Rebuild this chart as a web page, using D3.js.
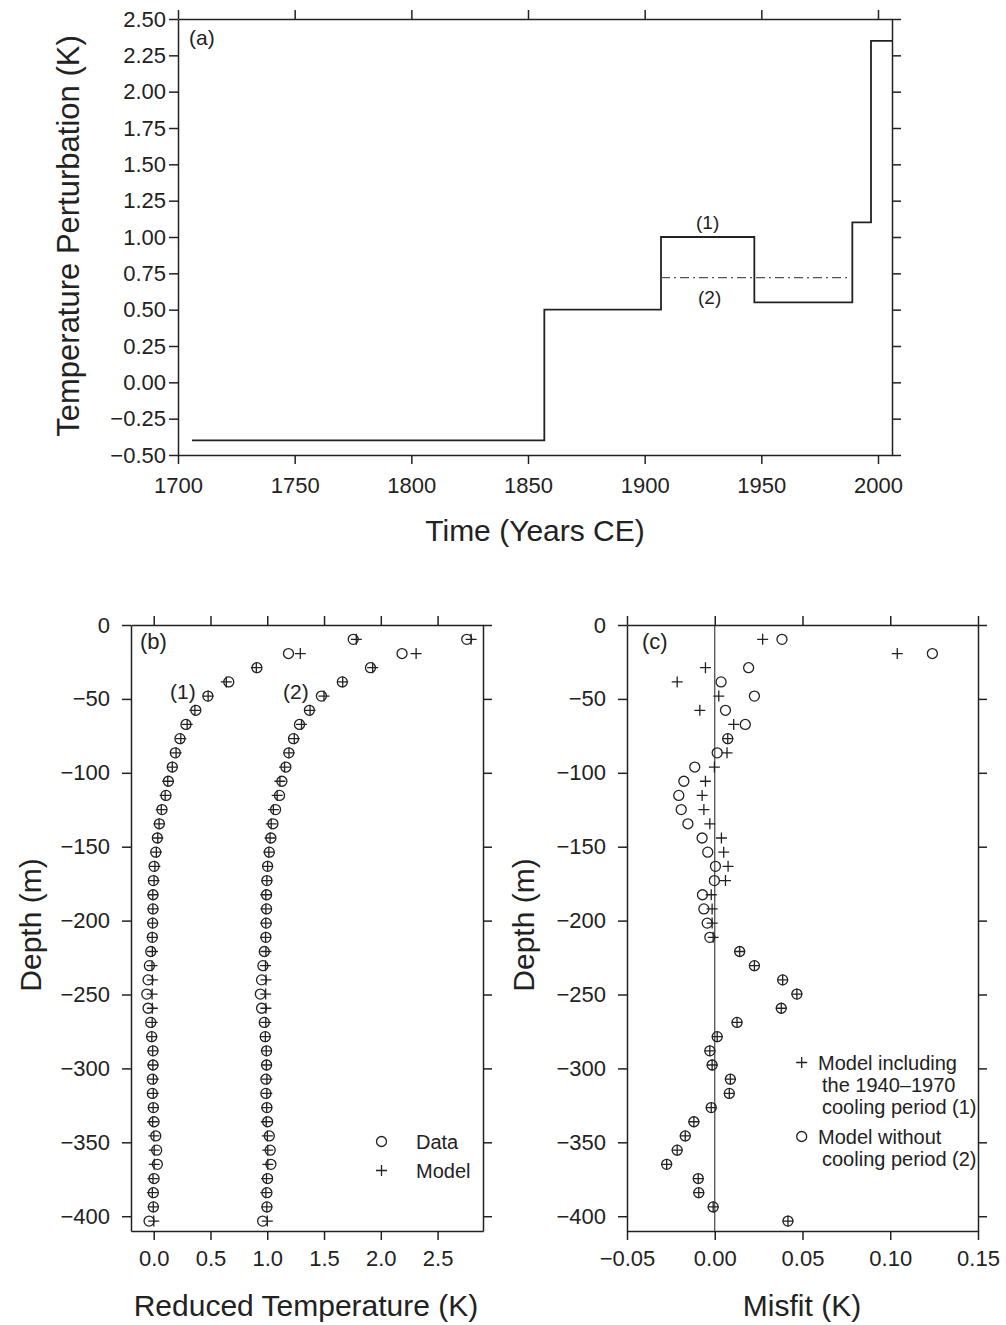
<!DOCTYPE html>
<html>
<head>
<meta charset="utf-8">
<script src="https://cdn.jsdelivr.net/npm/d3@7"></script>
<style>
    body { margin: 0; background: #fff; }
    svg text { font-family: "Liberation Sans", Arial, Helvetica, sans-serif; fill: #222; }
    .axis path, .axis line { stroke: #222; stroke-width: 1.5; }
    .axis text { font-size: 22px; }
    .title { font-size: 30px; }
    .tag { font-size: 19px; }
</style>
</head>
<body>
<svg id="fig" width="1006" height="1325"></svg>
<script>

// ---- panel (a): step history of the surface temperature ----
let stepYears = [1706, 1857, 1907, 1947, 1989, 1997, 2006];
let stepValues = [-0.4, 0.5, 1.0, 0.55, 1.1, 2.35, 2.35];
let noCoolingYears = [1907, 1988];
let noCoolingValue = 0.72;
let yearTicks = [1700, 1750, 1800, 1850, 1900, 1950, 2000];
let perturbTicks = [-0.5, -0.25, 0, 0.25, 0.5, 0.75, 1, 1.25, 1.5, 1.75, 2, 2.25, 2.5];

// ---- panels (b) and (c): borehole profile ----
let depths = [-9.7, -19.3, -28.9, -38.5, -48.1, -57.7, -67.3, -76.9, -86.5, -96.1,
    -105.7, -115.3, -124.9, -134.5, -144.1, -153.7, -163.3, -172.9, -182.5, -192.1,
    -201.7, -211.3, -220.9, -230.5, -240.1, -249.7, -259.3, -268.9, -278.5, -288.1,
    -297.7, -307.3, -316.9, -326.5, -336.1, -345.7, -355.3, -364.9, -374.5, -384.1,
    -393.7, -403.3];
// reduced temperature (data), curve (2) is drawn shifted by 1 K
let reducedTemp = [1.757, 1.187, 0.909, 0.661, 0.477, 0.371, 0.284, 0.231, 0.190, 0.164,
    0.129, 0.108, 0.073, 0.050, 0.032, 0.018, 0.003, -0.003, -0.006, -0.006,
    -0.009, -0.012, -0.026, -0.038, -0.050, -0.061, -0.050, -0.026, -0.018, -0.006,
    -0.006, -0.012, -0.012, -0.003, 0.003, 0.018, 0.026, 0.032, 0.003, -0.003,
    -0.003, -0.041];
let curveOffset = [0, 1];
// misfit = model - data
let misfit1 = [0.0273, 0.104, -0.0053, -0.0214, 0.0023, -0.0085, 0.0108, 0.0074, 0.007, -0.0002,
    -0.0053, -0.0072, -0.0062, -0.0028, 0.0038, 0.0051, 0.0076, 0.0061, -0.002, -0.0015,
    -0.0015, -0.0009, 0.0142, 0.0226, 0.0387, 0.0468, 0.0379, 0.0127, 0.0014, -0.0028,
    -0.0015, 0.0089, 0.0083, -0.002, -0.0119, -0.0168, -0.0214, -0.0274, -0.0094, -0.0091,
    -0.0009, 0.0417];
let misfit2 = [0.0383, 0.124, 0.0193, 0.0036, 0.0226, 0.0061, 0.0174, 0.0074, 0.0014, -0.0114,
    -0.0176, -0.0205, -0.0191, -0.0153, -0.0072, -0.004, 0.0004, -0.0002, -0.007, -0.0062,
    -0.0043, -0.0028, 0.0142, 0.0226, 0.0387, 0.0468, 0.0379, 0.0127, 0.0014, -0.0028,
    -0.0015, 0.0089, 0.0083, -0.002, -0.0119, -0.0168, -0.0214, -0.0274, -0.0094, -0.0091,
    -0.0009, 0.0417];
let depthTicks = [0, -50, -100, -150, -200, -250, -300, -350, -400];
let tempTicks = [0, 0.5, 1, 1.5, 2, 2.5];
let misfitTicks = [-0.05, 0, 0.05, 0.1, 0.15];

let svg = d3.select("#fig");
let ink = "#222";

// draw a boxed frame with outward ticks on all four sides
function drawFrame(g, x, y, xTicks, yTicks, xFmt, yFmt, xPad, yPad) {
    let tick = 9;
    let [x0, x1] = x.range();
    let [y0, y1] = y.range();
    g.append("g").attr("class", "axis").attr("transform", "translate(0," + y0 + ")")
        .call(d3.axisBottom(x).tickValues(xTicks).tickFormat(xFmt).tickSize(tick).tickSizeOuter(0).tickPadding(xPad));
    g.append("g").attr("class", "axis").attr("transform", "translate(0," + y1 + ")")
        .call(d3.axisTop(x).tickValues(xTicks).tickFormat("").tickSize(tick).tickSizeOuter(0));
    g.append("g").attr("class", "axis").attr("transform", "translate(" + x0 + ",0)")
        .call(d3.axisLeft(y).tickValues(yTicks).tickFormat(yFmt).tickSize(tick).tickSizeOuter(0).tickPadding(yPad));
    g.append("g").attr("class", "axis").attr("transform", "translate(" + x1 + ",0)")
        .call(d3.axisRight(y).tickValues(yTicks).tickFormat("").tickSize(tick).tickSizeOuter(0));
}

function addTitle(g, txt, cx, cy, rotate, size) {
    g.append("text").attr("class", "title")
        .attr("text-anchor", "middle")
        .attr("dy", "0.35em")
        .style("font-size", size + "px")
        .attr("transform", "translate(" + cx + "," + cy + ")" + (rotate ? " rotate(-90)" : ""))
        .text(txt);
}

function addTag(g, txt, px, py, size) {
    g.append("text").attr("class", "tag")
        .attr("x", px).attr("y", py)
        .style("font-size", size + "px")
        .text(txt);
}

function circles(g, pts, r) {
    g.selectAll(null).data(pts).enter().append("circle")
        .attr("cx", d => d[0]).attr("cy", d => d[1]).attr("r", r)
        .attr("fill", "none").attr("stroke", ink).attr("stroke-width", 1.3);
}

function crosses(g, pts, s) {
    g.selectAll(null).data(pts).enter().append("path")
        .attr("d", d => "M" + (d[0] - s) + "," + d[1] + "h" + (2 * s) + "M" + d[0] + "," + (d[1] - s) + "v" + (2 * s))
        .attr("stroke", ink).attr("stroke-width", 1.3).attr("fill", "none");
}

// ================= panel (a) =================
let ga = svg.append("g");
let xa = d3.scaleLinear().domain([1700, 2006]).range([178, 892]);
let ya = d3.scaleLinear().domain([-0.5, 2.5]).range([455, 19]);

let steps = stepYears.map((yr, i) => [yr, stepValues[i]]);
ga.append("path").datum(steps)
    .attr("d", d3.line().x(d => xa(d[0])).y(d => ya(d[1])).curve(d3.curveStepAfter))
    .attr("fill", "none").attr("stroke", ink).attr("stroke-width", 1.8);

ga.append("path").datum(noCoolingYears)
    .attr("d", d3.line().x(d => xa(d)).y(() => ya(noCoolingValue)))
    .attr("fill", "none").attr("stroke", "#555").attr("stroke-width", 1.3)
    .attr("stroke-dasharray", "9,4,2,4");

drawFrame(ga, xa, ya, yearTicks, perturbTicks, d3.format("d"), d3.format(".2f"), 13, 3);
addTitle(ga, "Temperature Perturbation (K)", 68, 236, true, 31);
addTitle(ga, "Time (Years CE)", 535, 530, false, 30);
addTag(ga, "(a)", 189, 45, 21);
addTag(ga, "(1)", 696, 229, 19);
addTag(ga, "(2)", 698, 304, 19);

// ================= panel (b) =================
let gb = svg.append("g");
let xb = d3.scaleLinear().domain([-0.2, 2.9]).range([131, 483]);
let yb = d3.scaleLinear().domain([-410, 0]).range([1231, 625]);

let dataPts = [], modelPts = [];
curveOffset.forEach(function(off, c) {
    let mis = c === 0 ? misfit1 : misfit2;
    depths.forEach(function(z, i) {
        dataPts.push([xb(reducedTemp[i] + off), yb(z)]);
        modelPts.push([xb(reducedTemp[i] + mis[i] + off), yb(z)]);
    });
});
circles(gb, dataPts, 5);
crosses(gb, modelPts, 5.5);

drawFrame(gb, xb, yb, tempTicks, depthTicks, d3.format(".1f"), d3.format("d"), 10, 12);
addTitle(gb, "Depth (m)", 30, 925, true, 30);
addTitle(gb, "Reduced Temperature (K)", 306, 1305, false, 30);
addTag(gb, "(b)", 140, 649, 22);
addTag(gb, "(1)", 170, 699, 21);
addTag(gb, "(2)", 283, 699, 21);

// legend (b)
circles(gb, [[381.5, 1141.5]], 5);
crosses(gb, [[381.5, 1170.5]], 5.5);
addTag(gb, "Data", 416, 1149, 20);
addTag(gb, "Model", 416, 1178, 20);

// ================= panel (c) =================
let gc = svg.append("g");
let xc = d3.scaleLinear().domain([-0.05, 0.15]).range([627, 978]);
let yc = d3.scaleLinear().domain([-410, 0]).range([1231, 625]);

gc.append("line")
    .attr("x1", xc(0)).attr("x2", xc(0))
    .attr("y1", yc(0)).attr("y2", yc(-410))
    .attr("stroke", "#444").attr("stroke-width", 1.2);

circles(gc, depths.map((z, i) => [xc(misfit2[i]), yc(z)]), 5);
crosses(gc, depths.map((z, i) => [xc(misfit1[i]), yc(z)]), 5.5);

drawFrame(gc, xc, yc, misfitTicks, depthTicks, d3.format(".2f"), d3.format("d"), 10, 12);
addTitle(gc, "Depth (m)", 523, 925, true, 30);
addTitle(gc, "Misfit (K)", 802, 1305, false, 30);
addTag(gc, "(c)", 642, 649, 22);

// legend (c)
crosses(gc, [[801.7, 1062.5]], 5.5);
circles(gc, [[801.7, 1136.5]], 5);
let legLines = [["Model including", 818, 1070], ["the 1940\u20131970", 822, 1092], ["cooling period (1)", 822, 1114],
    ["Model without", 818, 1144], ["cooling period (2)", 822, 1166]];
legLines.forEach(d => addTag(gc, d[0], d[1], d[2], 20));

</script>
</body>
</html>
